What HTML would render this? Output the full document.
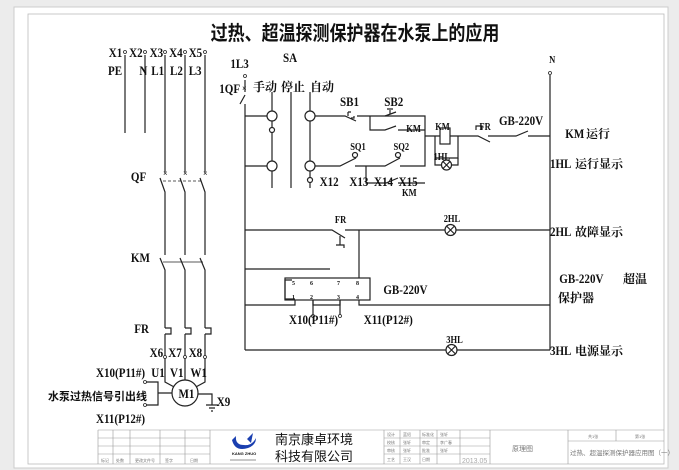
<!DOCTYPE html>
<html><head><meta charset="utf-8"><style>
html,body{margin:0;padding:0;background:#ececec;}
svg{display:block;}
text{font-family:"Liberation Serif","Noto Serif CJK SC",serif;font-weight:bold;fill:#111;}
.c{font-family:"Liberation Sans","Noto Sans CJK SC",sans-serif;}
.t{font-weight:normal;fill:#777;font-size:4px;font-family:"Liberation Sans","Noto Sans CJK SC",sans-serif;}
</style></head><body>
<svg width="679" height="470" viewBox="0 0 679 470" xmlns="http://www.w3.org/2000/svg">
<rect x="0" y="0" width="679" height="470" fill="#ececec"/>
<rect x="14" y="7" width="654" height="461" fill="#fff" stroke="#ccc"/>
<rect x="28" y="14" width="636" height="450" fill="#fff" stroke="#bbb" stroke-width="0.8"/>
<g transform="translate(355,0) scale(0.85,1)"><text x="0" y="40" font-size="20" text-anchor="middle" class="c" style="font-weight:bold">过热、超温探测保护器在水泵上的应用</text></g>
<g stroke="#222" stroke-width="1.2" fill="none">
<line x1="125" y1="55" x2="125" y2="133"/><line x1="145" y1="55" x2="145" y2="133"/>
<line x1="165" y1="55" x2="165" y2="172"/><line x1="185" y1="55" x2="185" y2="172"/><line x1="205" y1="55" x2="205" y2="172"/>
<path d="M160 178 L165 192 L165 255"/><path d="M180 178 L185 192 L185 255"/><path d="M200 178 L205 192 L205 255"/>
<line x1="163" y1="181" x2="203" y2="181" stroke-dasharray="3,2" stroke-width="0.8"/>
<path d="M160 258 L165 270 L165 328"/><path d="M180 258 L185 270 L185 328"/><path d="M200 258 L205 270 L205 328"/>
<line x1="163" y1="262" x2="203" y2="262" stroke-width="0.8"/>
<path d="M165 328 h6 v6 h-6 M185 328 h6 v6 h-6 M205 328 h6 v6 h-6"/>
<line x1="165" y1="334" x2="165" y2="357"/><line x1="185" y1="334" x2="185" y2="357"/><line x1="205" y1="334" x2="205" y2="357"/>
<path d="M165 357 L165 382 L176 388"/><line x1="185" y1="357" x2="185" y2="380"/><path d="M205 357 L205 382 L194 388"/>
<circle cx="185" cy="393" r="13" fill="#fff"/>
<path d="M198 394 H212 V405 M206 405 H218 M209 408 H215 M211 411 H213"/>
<path d="M145 382 H158 V405 H145 M158 393 H172"/>
<path d="M245 95 L240 104 M245 104 V350"/>
<line x1="245" y1="80" x2="245" y2="92"/>
<line x1="272" y1="92" x2="272" y2="188"/><line x1="291" y1="92" x2="291" y2="188"/><line x1="310" y1="92" x2="310" y2="188"/>
<line x1="245" y1="116" x2="267" y2="116"/><line x1="245" y1="166" x2="267" y2="166"/>
<circle cx="272" cy="116" r="5" fill="#fff"/><circle cx="272" cy="166" r="5" fill="#fff"/><circle cx="310" cy="116" r="5" fill="#fff"/><circle cx="310" cy="166" r="5" fill="#fff"/>
<circle cx="272" cy="130" r="2.5" fill="#fff"/><circle cx="310" cy="180" r="2.5" fill="#fff"/>
<path d="M315 116 H345 L356 121 M357 116 H425 V136"/>
<path d="M348 112 v4 M348 112 h3 M351 118 h3 v-2"/>
<path d="M370 116 V130 H385 L396 126 M398 130 H425"/>
<path d="M385 116 L396 112"/>
<path d="M390 110 v4 M387 109 h6"/>
<path d="M315 166 H340 L356 158 M355 166 H385 L400 158 M400 166 H425 V136"/>
<circle cx="355" cy="155" r="2.5"/><circle cx="398" cy="155" r="2.5"/>
<path d="M366 166 V183 H386 L398 178 M398 183 H425"/>
<path d="M425 136 H440 M450 136 H478 L490 142 M488 136 H516 L528 131 M528 136 H550"/>
<rect x="440" y="128" width="10" height="16" fill="#fff"/>
<path d="M476 130 v-4 h6 v4"/>
<path d="M435 136 V158 H458 V136"/>
<circle cx="446.5" cy="165" r="5" fill="#fff"/><path d="M443 161.5 l7 7 M450 161.5 l-7 7"/>
<path d="M435 158 V165 H441 M452 165 H458 V158"/>
<line x1="550" y1="75" x2="550" y2="350"/>
<path d="M245 230 H332 L345 238 M345 230 H445 M456 230 H550"/>
<path d="M340 236 V245 M336 245 h8 v3"/>
<circle cx="450.5" cy="230" r="5.5" fill="#fff"/><path d="M446.5 226 l8 8 M454.5 226 l-8 8"/>
<path d="M359 230 V278"/>
<path d="M245 269 H330"/>
<rect x="285" y="278" width="85" height="22" fill="#fff"/>
<path d="M292 280 H285 V299 H295 M313 300 V305 H340 V300 M295 300 V305 H245 M359 300 V305 H550"/>
<path d="M313 300 V315 M340 300 V315"/>
<path d="M245 350 H446 M457 350 H550"/>
<circle cx="451.5" cy="350" r="5.5" fill="#fff"/><path d="M447.5 346 l8 8 M455.5 346 l-8 8"/>
</g>
<g fill="#fff" stroke="#222" stroke-width="0.8">
<circle cx="125" cy="52" r="1.5"/><circle cx="145" cy="52" r="1.5"/><circle cx="165" cy="52" r="1.5"/><circle cx="185" cy="52" r="1.5"/><circle cx="205" cy="52" r="1.5"/>
<circle cx="245" cy="76" r="1.5"/><circle cx="550" cy="73" r="1.5"/>
<circle cx="165" cy="357" r="1.5"/><circle cx="185" cy="357" r="1.5"/><circle cx="205" cy="357" r="1.5"/>
<circle cx="145" cy="382" r="1.5"/><circle cx="145" cy="405" r="1.5"/>
<circle cx="313" cy="316" r="1.5"/><circle cx="340" cy="316" r="1.5"/>
</g>
<g font-size="8" fill="#222"><text x="163" y="176">×</text><text x="183" y="176">×</text><text x="203" y="176">×</text><text x="242" y="91">×</text></g>
<g font-size="13" transform="scale(0.85,1)">
<text x="128" y="57">X1</text><text x="152" y="57">X2</text><text x="176" y="57">X3</text><text x="199" y="57">X4</text><text x="222" y="57">X5</text>
<text x="127" y="75">PE</text><text x="164" y="75">N</text><text x="178" y="75">L1</text><text x="200" y="75">L2</text><text x="222" y="75">L3</text>
<text x="154" y="181">QF</text><text x="154" y="262">KM</text><text x="158" y="333">FR</text>
<text x="176" y="357">X6</text><text x="198" y="357">X7</text><text x="222" y="357">X8</text>
<text x="178" y="377">U1</text><text x="200" y="377">V1</text><text x="224" y="377">W1</text>
<text x="210" y="398">M1</text><text x="255" y="406">X9</text>
<text x="113" y="377">X10(P11#)</text><text x="113" y="423">X11(P12#)</text>
<text x="271" y="68">1L3</text><text x="333" y="62">SA</text><text x="258" y="93">1QF</text>
<text x="400" y="106">SB1</text><text x="452" y="106">SB2</text>
<text x="376" y="186">X12</text><text x="411" y="186">X13</text><text x="440" y="186">X14</text><text x="469" y="186">X15</text>
<text x="665" y="138">KM</text><text x="647" y="168">1HL</text><text x="647" y="236">2HL</text>
<text x="658" y="283">GB-220V</text><text x="647" y="355">3HL</text>
<text x="587" y="125">GB-220V</text><text x="451" y="294">GB-220V</text>
<text x="340" y="324">X10(P11#)</text><text x="428" y="324">X11(P12#)</text>
</g>
<g font-size="10" transform="scale(0.85,1)">
<text x="512" y="130">KM</text><text x="564" y="130">FR</text><text x="510" y="160">1HL</text>
<text x="394" y="223">FR</text><text x="522" y="222">2HL</text><text x="525" y="343">3HL</text>
<text x="478" y="132">KM</text><text x="473" y="196">KM</text>
<text x="412" y="150">SQ1</text><text x="463" y="150">SQ2</text>
<text x="646" y="63">N</text>
</g>
<g font-size="12" class="c" style="font-weight:bold">
<text x="253" y="91">手动</text><text x="281" y="91">停止</text><text x="310" y="91">自动</text>
<text x="586" y="138">运行</text><text x="575" y="168">运行显示</text><text x="575" y="236">故障显示</text>
<text x="623" y="283">超温</text><text x="558" y="302">保护器</text><text x="575" y="355">电源显示</text>
</g>
<text x="48" y="400" font-size="11" class="c" style="font-weight:bold">水泵过热信号引出线</text>
<g font-size="6" style="font-weight:bold"><text x="292" y="285">5</text><text x="310" y="285">6</text><text x="337" y="285">7</text><text x="356" y="285">8</text>
<text x="292" y="299">1</text><text x="310" y="299">2</text><text x="337" y="299">3</text><text x="356" y="299">4</text></g>
<g stroke="#999" stroke-width="0.6" fill="none">
<path d="M98 430 H664 M98 438 H210 M98 446 H210 M98 454 H210 M384 438 H490 M384 446 H490 M384 454 H490 M568 441 H664"/>
<path d="M98 430 V464 M113 430 V464 M130 430 V464 M160 430 V464 M185 430 V464 M210 430 V464 M384 430 V464 M400 430 V464 M420 430 V464 M437 430 V464 M460 430 V464 M490 430 V464 M568 430 V464 M616 430 V441"/>
</g>
<path d="M232 440 q3 12 16 8 q8 -3 8 -10 q-4 8 -12 7 q-9 0 -8 -9 z" fill="#1a3fb0"/>
<path d="M241 433 l6 6 l6 -6 l-2 10 z" fill="#1a3fb0"/>
<text x="232" y="455" font-size="4" class="c">KANG ZHUO</text>
<line x1="230" y1="460" x2="256" y2="460" stroke="#222" stroke-width="0.6"/>
<text x="275" y="444" font-size="13" class="c" style="font-weight:normal">南京康卓环境</text>
<text x="275" y="461" font-size="13" class="c" style="font-weight:normal">科技有限公司</text>
<text x="512" y="451" font-size="7" class="c" style="font-weight:normal;fill:#777">原理图</text>
<text x="570" y="455" font-size="6.5" class="c" style="font-weight:normal;fill:#777">过热、超温探测保护器应用图（一）</text>
<text x="588" y="438" class="t">共1张</text><text x="635" y="438" class="t">第1张</text>
<text x="462" y="463" font-size="7" class="c" style="font-weight:normal;fill:#aaa">2013.05</text>
<g class="t"><text x="101" y="462" class="t">标记</text><text x="116" y="462" class="t">处数</text><text x="135" y="462" class="t">更改文件号</text><text x="165" y="462" class="t">签字</text><text x="190" y="462" class="t">日期</text>
<text x="387" y="436" class="t">设计</text><text x="403" y="436" class="t">蓝绍</text><text x="422" y="436" class="t">标准化</text><text x="440" y="436" class="t">张轩</text>
<text x="387" y="444" class="t">校核</text><text x="403" y="444" class="t">张轩</text><text x="422" y="444" class="t">审定</text><text x="440" y="444" class="t">李广春</text>
<text x="387" y="452" class="t">审核</text><text x="403" y="452" class="t">张轩</text><text x="422" y="452" class="t">批准</text><text x="440" y="452" class="t">张轩</text>
<text x="387" y="461" class="t">工艺</text><text x="403" y="461" class="t">王汉</text><text x="422" y="461" class="t">日期</text></g>
</svg>
</body></html>
